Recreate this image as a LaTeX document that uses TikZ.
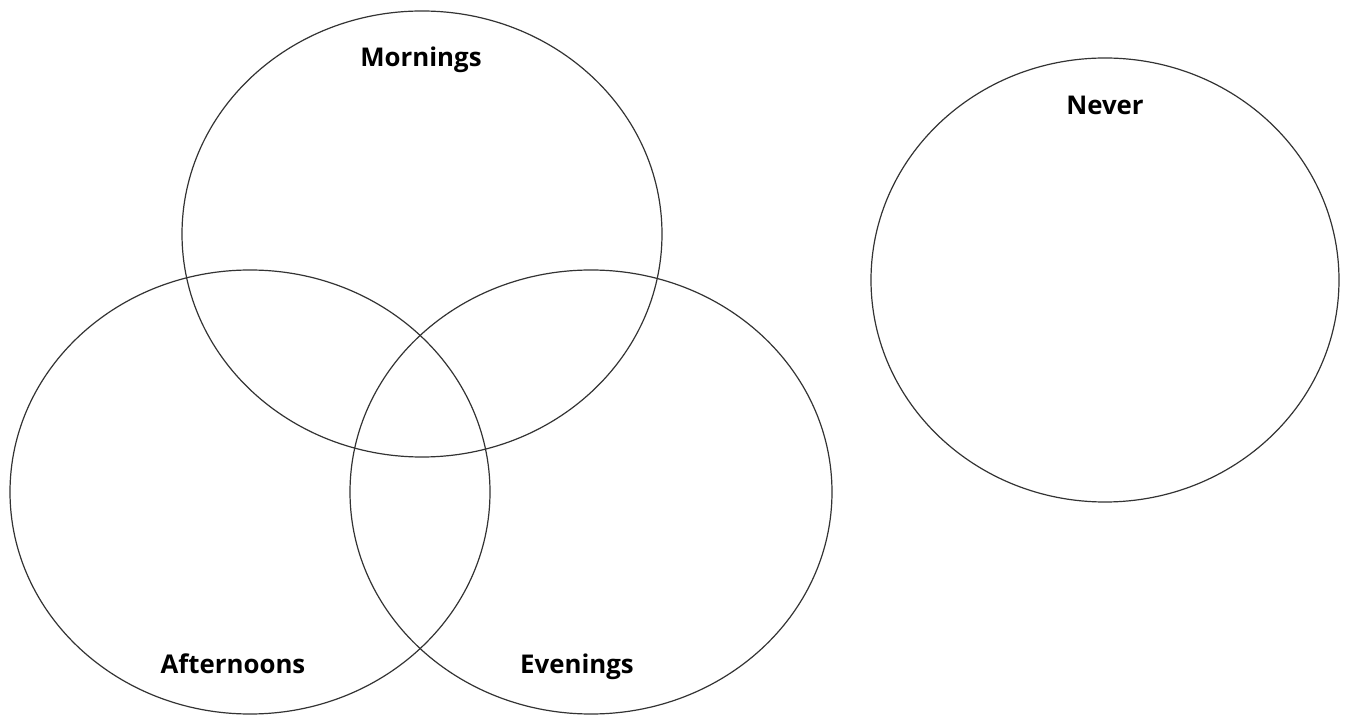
\documentclass[tikz,border=0pt]{standalone}
\usepackage{fontspec}
\setmainfont{Open Sans}
\usepackage{tikz}
\usetikzlibrary{positioning}

\begin{document}
\begin{tikzpicture}[x=0.5pt, y=-0.5pt,
    ring/.style={draw=black!80, line width=0.6pt},
    setlabel/.style={font=\bfseries\fontsize{12.9}{15}\selectfont, inner sep=0pt, anchor=base}]
    \useasboundingbox (0,0) rectangle (1355,716);
    \coordinate (M) at (422,234);
    \coordinate (A) at (250,492);
    \coordinate (E) at (591,492);
    \coordinate (N) at (1105,280);
    \draw[ring] (M) ellipse [x radius=240, y radius=223];
    \draw[ring] (A) ellipse [x radius=240, y radius=222];
    \draw[ring] (E) ellipse [x radius=241, y radius=222];
    \draw[ring] (N) ellipse [x radius=234, y radius=222];
    \node[setlabel] (morn) at (421,67) {Mornings};
    \node[setlabel] (aft) at (233,673) {Afternoons};
    \node[setlabel] (eve) at (577,673) {Evenings};
    \node[setlabel] (nev) at (1105,115) {Never};
\end{tikzpicture}
\end{document}
